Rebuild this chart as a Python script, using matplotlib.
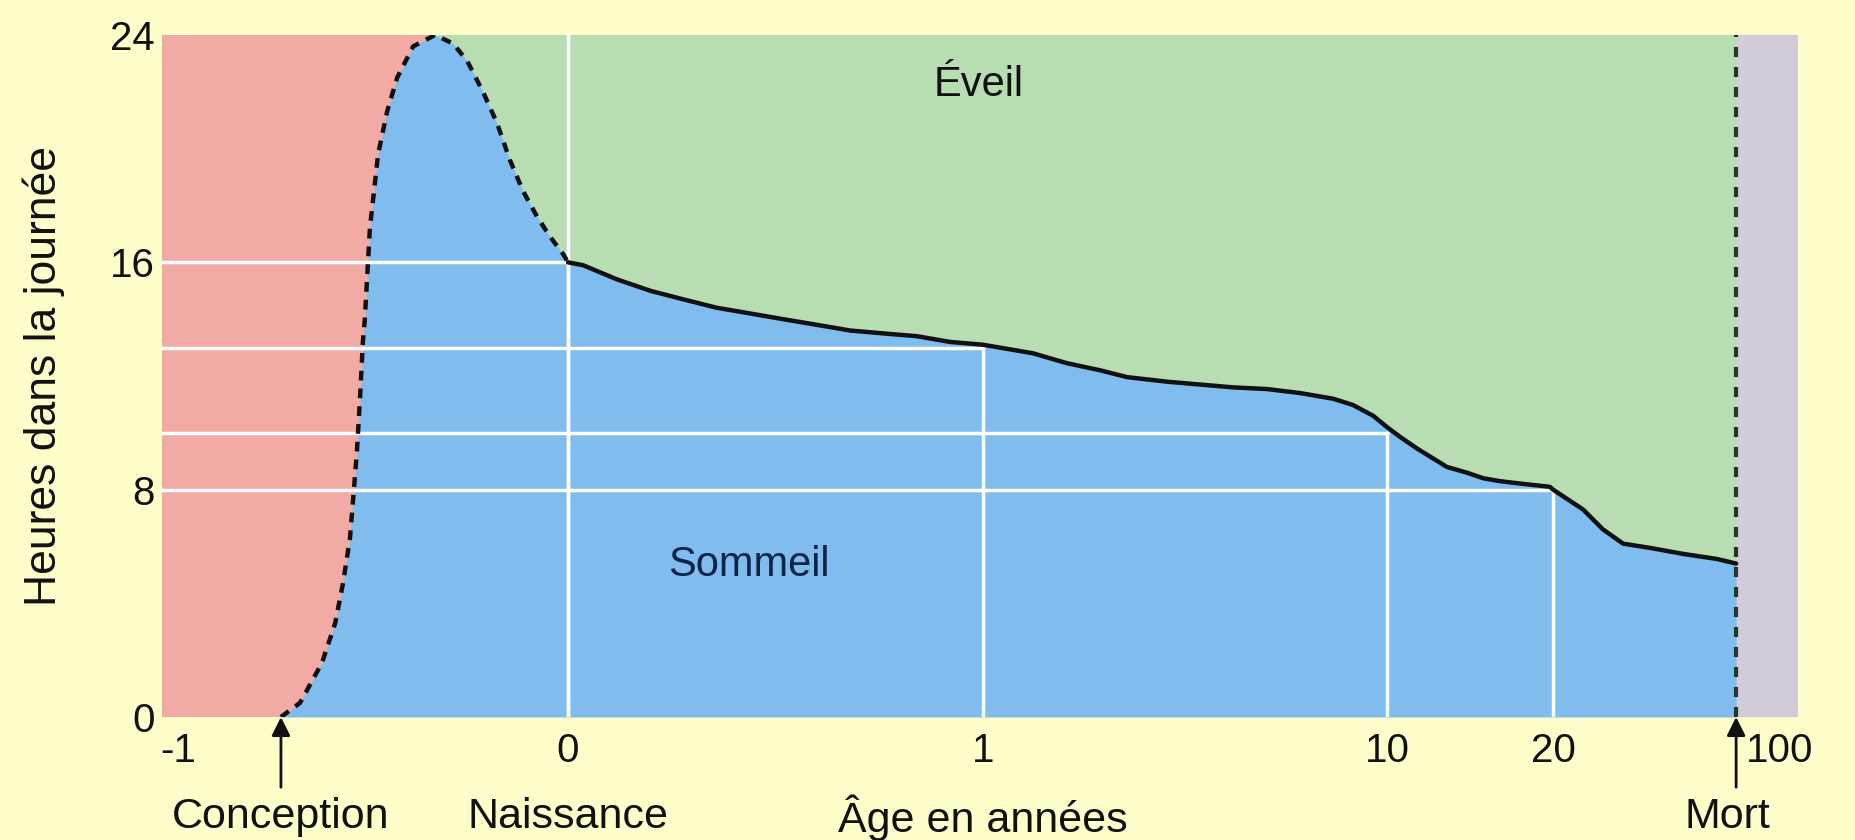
import matplotlib
matplotlib.use("Agg")
import matplotlib.pyplot as plt
import numpy as np

plt.rcParams['font.family'] = ['Liberation Sans', 'DejaVu Sans']

# hours of sleep per day before birth (age in years, negative = before birth)
prenatal_age = [-0.736, -0.687, -0.631, -0.597, -0.577, -0.559, -0.549, -0.541,
                -0.533, -0.526, -0.521, -0.508, -0.487, -0.464, -0.438, -0.397,
                -0.341, -0.295, -0.259, -0.218, -0.182, -0.149, -0.115, -0.079,
                -0.046, -0.013, 0.0]
prenatal_sleep = [0.0, 0.5, 1.9, 3.3, 4.7, 6.3, 8.0, 9.4,
                  11.3, 13.2, 14.0, 17.2, 19.8, 21.3, 22.5, 23.6,
                  24.0, 23.7, 23.1, 22.0, 20.9, 19.6, 18.5, 17.6,
                  16.9, 16.3, 16.0]

# hours of sleep per day from birth to death
life_age = [0.0, 0.036, 0.118, 0.198, 0.277, 0.359, 0.439, 0.518, 0.6, 0.68,
            0.759, 0.841, 0.92, 1.0, 2.11, 2.87, 3.61, 4.21, 5.1, 5.83,
            6.57, 7.33, 8.06, 8.8, 9.24, 9.69, 10.0, 10.8, 11.8, 13.6,
            14.8, 15.8, 16.8, 17.8, 19.8, 20.0, 30.6, 37.6, 44.7, 54.2,
            65.8, 77.8, 84.5]
life_sleep = [16.0, 15.9, 15.4, 15.0, 14.7, 14.4, 14.2, 14.0, 13.8, 13.6,
              13.5, 13.4, 13.2, 13.1, 12.8, 12.45, 12.2, 11.96, 11.8, 11.7,
              11.6, 11.54, 11.4, 11.2, 10.98, 10.6, 10.2, 9.85, 9.45, 8.8,
              8.6, 8.4, 8.3, 8.23, 8.1, 8.0, 7.3, 6.6, 6.1, 5.95,
              5.74, 5.56, 5.4]

# reference marks: sleep at a few ages
ref_age = [0, 1, 10, 20]
ref_sleep = [16, 13, 10, 8]

tick_ages = [-1, 0, 1, 10, 20, 100]
tick_labels = ['-1', '0', '1', '10', '20', '100']
hour_ticks = [0, 8, 16, 24]

PINK = '#f2aaa5'
GREEN = '#b8ddb3'
BLUE = '#80bdee'
GREY = '#d1ccd8'
BG = '#fefecb'
INK = '#111111'

# piecewise axis: each stretch between labelled ages has its own width
knot_age = [-2, -1, 0, 1, 10, 20, 100, 200]
knot_pos = [-212, 178, 568, 983, 1387, 1553, 1780, 2064]


def fwd(x):
    return np.interp(x, knot_age, knot_pos)


def inv(p):
    return np.interp(p, knot_pos, knot_age)


fig = plt.figure(figsize=(18.56, 8.4), dpi=100, facecolor=BG)
ax = fig.add_axes([162 / 1856, 1 - 717 / 840, 1636 / 1856, 682 / 840])
ax.set_xscale('function', functions=(fwd, inv))
xmin, xmax = -1.041, 106.3
ax.set_xlim(xmin, xmax)
ax.set_ylim(0, 24)

conception = prenatal_age[0]
death = life_age[-1]
peak = prenatal_age[int(np.argmax(prenatal_sleep))]

ax.axvspan(xmin, peak, color=PINK, lw=0, zorder=0)
ax.axvspan(peak, death, color=GREEN, lw=0, zorder=0)
ax.axvspan(death, xmax, color=GREY, lw=0, zorder=0)

ages = np.array(prenatal_age + life_age[1:])
sleep = np.array(prenatal_sleep + life_sleep[1:])
ax.fill_between(ages, 0, sleep, color=BLUE, lw=0, zorder=1)

# white guide lines from the axes to the curve
ax.axvline(0, color='white', lw=2.5, zorder=2)
for a, h in zip(ref_age, ref_sleep):
    ax.plot([xmin, a], [h, h], color='white', lw=2.5, zorder=2)
    ax.plot([a, a], [0, h], color='white', lw=2.5, zorder=2)

ax.plot(prenatal_age, prenatal_sleep, color=INK, lw=3.2,
        ls=(0, (2.2, 1.8)), dash_capstyle='butt', zorder=3)
ax.plot(life_age, life_sleep, color=INK, lw=3.2,
        solid_capstyle='round', solid_joinstyle='round', zorder=3)
ax.axvline(death, color='#24352a', lw=3.0, ls=(0, (2.4, 2.4)), zorder=3)

ax.text(0.499, 0.927, 'Éveil', transform=ax.transAxes, ha='center',
        va='center', fontsize=30, color=INK)
ax.text(0.359, 0.223, 'Sommeil', transform=ax.transAxes, ha='center',
        va='center', fontsize=30, color='#0c2447')

for s in ax.spines.values():
    s.set_visible(False)
ax.set_xticks(tick_ages)
ax.set_xticklabels(tick_labels)
ax.set_yticks(hour_ticks)
ax.tick_params(length=0, labelsize=29, colors=INK)
ax.tick_params(axis='x', pad=11)
ax.tick_params(axis='y', pad=5)
ax.set_ylabel('Heures dans la journée', fontsize=32, color=INK)
ax.yaxis.set_label_coords(-0.059, 0.5)

tr = ax.get_xaxis_transform()
for a in (conception, death):
    ax.annotate('', xy=(a, 0.0), xytext=(a, -0.103), xycoords=tr,
                textcoords=tr, annotation_clip=False,
                arrowprops=dict(arrowstyle='-|>', color=INK, lw=2,
                                mutation_scale=28, shrinkA=0, shrinkB=0))

for a, txt in [(conception, 'Conception'), (0, 'Naissance'),
               (1, 'Âge en années'), (death - 3, 'Mort')]:
    ax.text(a, -0.147, txt, transform=tr, ha='center', va='center',
            fontsize=31, color=INK)

fig.savefig('out.png', dpi=100, facecolor=BG)
